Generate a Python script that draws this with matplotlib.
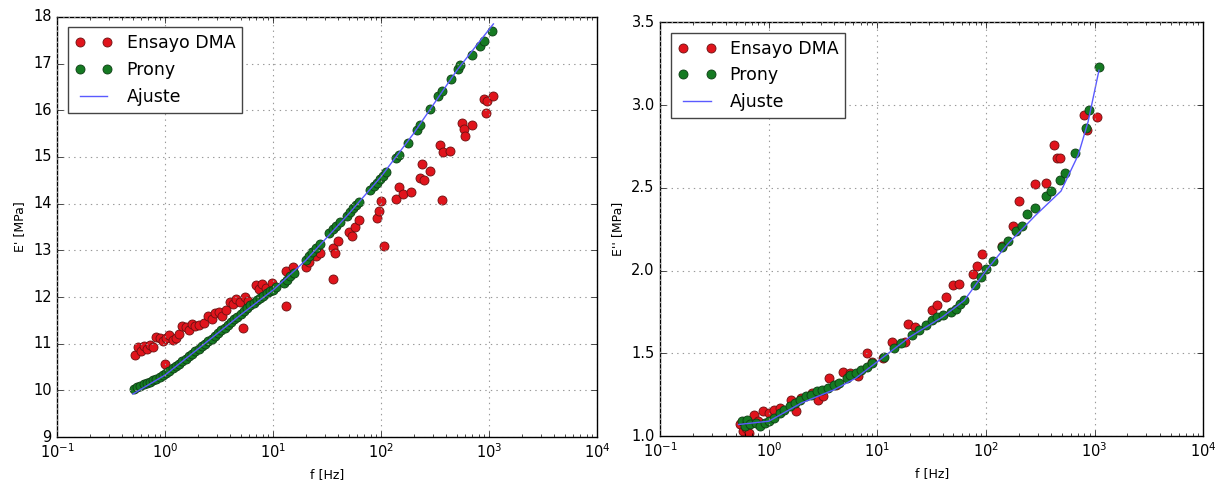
import numpy as np
import matplotlib.pyplot as plt

# ---------------------------------------------------------------------------
# Data: frequencies stored as log10(f [Hz]), moduli in MPa
# ---------------------------------------------------------------------------
# Storage modulus E'
dma1_logf = [-0.28, -0.25, -0.22, -0.20, -0.17, -0.14, -0.11, -0.08, -0.05, -0.02,
             0.00, 0.01, 0.04, 0.07, 0.10, 0.13, 0.16, 0.19, 0.22, 0.25,
             0.28, 0.31, 0.36, 0.40, 0.43, 0.46, 0.50, 0.53, 0.56, 0.60,
             0.63, 0.66, 0.69, 0.72, 0.74, 0.77, 0.84, 0.87, 0.90, 0.93,
             0.99, 1.12, 1.12, 1.18, 1.30, 1.33, 1.40, 1.43, 1.55, 1.57,
             1.556, 1.60, 1.70, 1.73, 1.76, 1.80, 1.96, 1.98, 2.00, 2.03,
             2.14, 2.17, 2.20, 2.28, 2.36, 2.38, 2.40, 2.45, 2.55, 2.57,
             2.566, 2.64, 2.75, 2.77, 2.78, 2.84, 2.95, 2.98, 2.97, 3.04]
dma1_E = [10.75, 10.92, 10.85, 10.95, 10.88, 10.98, 10.93, 11.15, 11.12, 11.05,
          10.57, 11.12, 11.18, 11.08, 11.12, 11.20, 11.38, 11.35, 11.30, 11.42,
          11.38, 11.40, 11.45, 11.60, 11.52, 11.65, 11.68, 11.60, 11.72, 11.90,
          11.85, 11.95, 11.90, 11.33, 12.00, 11.92, 12.25, 12.18, 12.28, 12.20,
          12.30, 11.80, 12.55, 12.65, 12.65, 12.75, 12.88, 12.95, 13.05, 12.95,
          12.38, 13.20, 13.40, 13.30, 13.50, 13.65, 13.70, 13.85, 14.05, 13.10,
          14.10, 14.35, 14.20, 14.25, 14.55, 14.85, 14.50, 14.70, 15.25, 15.10,
          14.07, 15.12, 15.72, 15.60, 15.45, 15.68, 16.25, 16.20, 15.95, 16.30]

prony1_logf = [-0.29, -0.26, -0.23, -0.20, -0.17, -0.14, -0.11, -0.08, -0.05, -0.02,
               0.01, 0.04, 0.07, 0.10, 0.13, 0.16, 0.19, 0.22, 0.25, 0.28,
               0.31, 0.34, 0.37, 0.40, 0.43, 0.46, 0.49, 0.52, 0.55, 0.58,
               0.61, 0.64, 0.67, 0.70, 0.73, 0.76, 0.79, 0.82, 0.85, 0.88,
               0.91, 0.94, 0.97, 1.00, 1.03, 1.10, 1.13, 1.16, 1.19, 1.30,
               1.33, 1.36, 1.40, 1.43, 1.52, 1.55, 1.58, 1.62, 1.68, 1.71,
               1.74, 1.77, 1.80, 1.90, 1.93, 1.96, 1.99, 2.02, 2.05, 2.14,
               2.17, 2.25, 2.33, 2.36, 2.45, 2.53, 2.56, 2.65, 2.71, 2.73,
               2.84, 2.92, 2.95, 3.03]
prony1_E = [10.04, 10.07, 10.10, 10.13, 10.16, 10.19, 10.22, 10.25, 10.29, 10.32,
            10.37, 10.42, 10.47, 10.52, 10.57, 10.63, 10.68, 10.73, 10.78, 10.84,
            10.89, 10.95, 11.00, 11.06, 11.11, 11.17, 11.23, 11.29, 11.34, 11.40,
            11.46, 11.52, 11.58, 11.64, 11.70, 11.76, 11.82, 11.88, 11.93, 11.98,
            12.03, 12.08, 12.12, 12.16, 12.21, 12.30, 12.36, 12.45, 12.52, 12.80,
            12.88, 12.96, 13.06, 13.14, 13.38, 13.45, 13.52, 13.60, 13.74, 13.82,
            13.90, 13.97, 14.04, 14.30, 14.38, 14.45, 14.53, 14.60, 14.67, 14.98,
            15.05, 15.30, 15.58, 15.68, 16.02, 16.30, 16.42, 16.67, 16.88, 16.97,
            17.18, 17.37, 17.48, 17.70]

fit1_logf = [-0.30, 0.00, 0.30, 0.70, 1.00, 1.30, 1.70, 2.00, 2.30, 2.70, 3.04]
fit1_E = [9.92, 10.33, 10.88, 11.62, 12.15, 12.78, 13.78, 14.58, 15.50, 16.85, 17.85]

# Loss modulus E''
dma2_logf = [-0.27, -0.24, -0.21, -0.18, -0.14, -0.10, -0.05, 0.00, 0.05, 0.10,
             0.20, 0.25, 0.30, 0.40, 0.45, 0.50, 0.55, 0.62, 0.68, 0.75,
             0.82, 0.90, 0.95, 1.05, 1.13, 1.25, 1.28, 1.35, 1.50, 1.55,
             1.63, 1.70, 1.75, 1.88, 1.92, 1.96, 2.15, 2.25, 2.30, 2.45,
             2.55, 2.63, 2.65, 2.68, 2.90, 2.93, 3.02]
dma2_E = [1.07, 1.03, 1.05, 1.02, 1.13, 1.09, 1.15, 1.14, 1.16, 1.17,
          1.22, 1.15, 1.23, 1.26, 1.22, 1.24, 1.35, 1.31, 1.39, 1.38,
          1.36, 1.50, 1.45, 1.47, 1.57, 1.57, 1.68, 1.66, 1.76, 1.79,
          1.84, 1.91, 1.92, 1.98, 2.03, 2.10, 2.15, 2.27, 2.42, 2.52,
          2.53, 2.76, 2.68, 2.68, 2.94, 2.85, 2.93]

prony2_logf = [-0.25, -0.22, -0.20, -0.17, -0.12, -0.08, -0.04, 0.00, 0.05, 0.10,
               0.14, 0.19, 0.24, 0.29, 0.34, 0.39, 0.44, 0.49, 0.54, 0.60,
               0.65, 0.72, 0.75, 0.80, 0.85, 0.90, 0.95, 1.06, 1.15, 1.22,
               1.32, 1.38, 1.45, 1.50, 1.55, 1.60, 1.68, 1.72, 1.76, 1.80,
               1.90, 1.95, 2.00, 2.06, 2.15, 2.20, 2.28, 2.33, 2.38, 2.45,
               2.55, 2.60, 2.68, 2.73, 2.82, 2.92, 2.95, 3.04]
prony2_E = [1.09, 1.06, 1.10, 1.07, 1.08, 1.06, 1.08, 1.09, 1.11, 1.14,
            1.16, 1.18, 1.20, 1.22, 1.24, 1.25, 1.27, 1.28, 1.29, 1.31,
            1.32, 1.35, 1.37, 1.38, 1.40, 1.42, 1.44, 1.48, 1.53, 1.56,
            1.61, 1.64, 1.67, 1.70, 1.72, 1.73, 1.75, 1.77, 1.80, 1.82,
            1.91, 1.96, 2.01, 2.06, 2.14, 2.18, 2.24, 2.27, 2.34, 2.38,
            2.45, 2.48, 2.55, 2.59, 2.71, 2.86, 2.97, 3.23]

fit2_logf = [-0.28, 0.00, 0.30, 0.60, 0.80, 1.00, 1.30, 1.60, 1.80, 2.00,
             2.20, 2.45, 2.69, 2.85, 2.94, 3.04]
fit2_E = [1.07, 1.09, 1.20, 1.28, 1.35, 1.45, 1.60, 1.72, 1.82, 2.00,
          2.16, 2.33, 2.48, 2.70, 2.90, 3.21]

# ---------------------------------------------------------------------------
# Figure
# ---------------------------------------------------------------------------
plt.style.use("classic")
plt.rcParams["font.family"] = ["DejaVu Sans"]

fig = plt.figure(figsize=(12.16, 4.84), dpi=100, facecolor="white")
ax1 = fig.add_axes([0.047, 0.097, 0.444, 0.868])
ax2 = fig.add_axes([0.543, 0.099, 0.4465, 0.855])

red = "#e0141c"
green = "#157a22"
blue = "#5a5aff"


def draw_panel(ax, dma_lf, dma_E, pr_lf, pr_E, fit_lf, fit_E, ylim, yticks, ylabel):
    ax.plot(10 ** np.array(dma_lf), dma_E, "o", color=red, mec="#6a1010",
            ms=6.5, mew=0.6, label="Ensayo DMA")
    ax.plot(10 ** np.array(pr_lf), pr_E, "o", color=green, mec="#0d3d14",
            ms=6.5, mew=0.6, label="Prony")
    ax.plot(10 ** np.array(fit_lf), fit_E, "-", color=blue, lw=1.0, label="Ajuste")
    ax.set_xscale("log")
    ax.set_xlim(0.1, 1e4)
    ax.set_ylim(*ylim)
    ax.set_yticks(yticks)
    ax.grid(True, color="#999999", linestyle=":", linewidth=0.8)
    ax.tick_params(labelsize=10.5)
    ax.set_xlabel("f [Hz]", fontsize=9)
    ax.set_ylabel(ylabel, fontsize=9)
    leg = ax.legend(loc="upper left", numpoints=2, fontsize=12.5,
                    borderaxespad=0.6, handlelength=2.2)
    leg.get_frame().set_edgecolor("#444444")


draw_panel(ax1, dma1_logf, dma1_E, prony1_logf, prony1_E, fit1_logf, fit1_E,
           (9, 18), np.arange(9, 19, 1), "E' [MPa]")
ax1.yaxis.set_major_formatter(plt.FormatStrFormatter("%d"))

draw_panel(ax2, dma2_logf, dma2_E, prony2_logf, prony2_E, fit2_logf, fit2_E,
           (1.0, 3.5), np.arange(1.0, 3.51, 0.5), "E'' [MPa]")
ax2.yaxis.set_major_formatter(plt.FormatStrFormatter("%.1f"))

fig.savefig("out.png", dpi=100, facecolor="white")
